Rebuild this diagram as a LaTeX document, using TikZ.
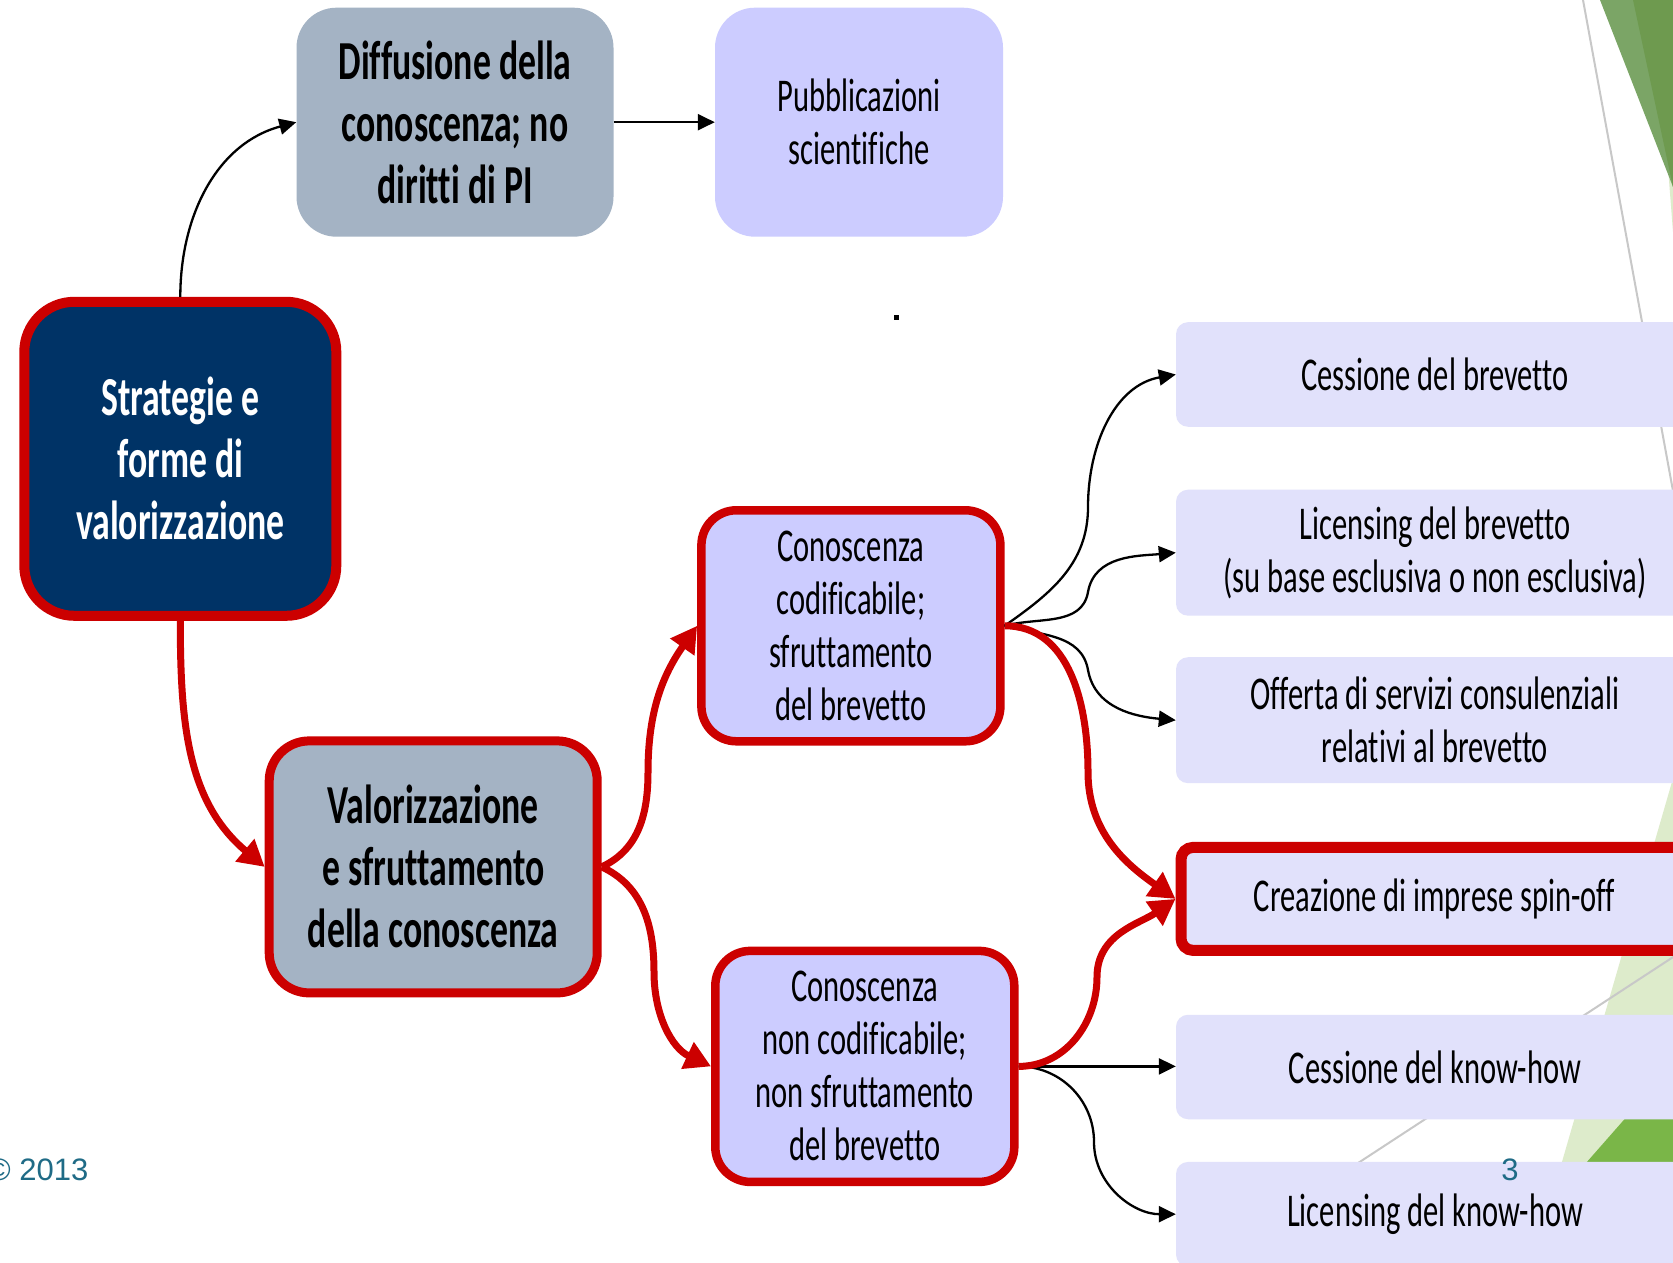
\documentclass[tikz,border=0pt]{standalone}
\usepackage{fontspec}
\setmainfont{Carlito}[FakeStretch=0.65, Ligatures=NoCommon]
\newfontfamily\footfont{Liberation Sans}
\usetikzlibrary{arrows.meta}

\definecolor{navyfill}{HTML}{003366}
\definecolor{boxred}{HTML}{CC0000}
\definecolor{slatefill}{HTML}{A4B3C4}
\definecolor{lilacfill}{HTML}{CCCCFF}
\definecolor{palelilac}{HTML}{E1E1FB}
\definecolor{footteal}{HTML}{1F6B86}
\definecolor{olivedark}{HTML}{6E9A4F}
\definecolor{olivemid}{HTML}{7BA566}
\definecolor{leafgreen}{HTML}{7AB648}
\definecolor{leafpale}{HTML}{DDEBCB}
\definecolor{rulegrey}{HTML}{C8C8C8}

\tikzset{
  boldtext/.style={font=\fontsize{55}{62}\selectfont\bfseries},
  plaintext/.style={font=\fontsize{47}{53}\selectfont},
  block/.style={align=center, inner sep=0pt},
  stratbox/.style={block, boldtext, fill=navyfill, draw=boxred, line width=10pt,
    rounded corners=50pt, text=white, minimum width=312pt, minimum height=314pt},
  greybox/.style={block, boldtext, fill=slatefill, rounded corners=40pt},
  valobox/.style={block, boldtext, fill=slatefill, draw=boxred, line width=9pt,
    rounded corners=40pt, minimum width=328pt, minimum height=252pt},
  lilacbox/.style={block, plaintext, fill=lilacfill, rounded corners=40pt},
  knowbox/.style={block, plaintext, fill=lilacfill, draw=boxred, line width=8.5pt,
    rounded corners=35pt, minimum width=299pt, minimum height=231pt},
  outbox/.style={block, plaintext, fill=palelilac, rounded corners=12pt,
    minimum width=518pt},
  spinbox/.style={outbox, draw=boxred, line width=11pt, minimum width=507pt},
  blackarrow/.style={draw=black, line width=2.3pt,
    -{Triangle[length=17pt,width=16pt]}},
  redarrow/.style={draw=boxred, line width=7pt,
    -{Triangle[length=26pt,width=28pt]}},
}

\begin{document}
\begin{tikzpicture}[x=1pt,y=1pt]
\useasboundingbox (0,0) rectangle (1673,1262);
\clip (0,0) rectangle (1673,1262);
\fill[white] (0,0) rectangle (1673,1262);

% theme decoration in the right margin
\fill[leafpale] (1655,1262) -- (1673,1262) -- (1673,1030) -- cycle;
\fill[olivemid] (1600,1262) -- (1673,1262) -- (1673,1075) -- cycle;
\fill[olivedark] (1633,1262) -- (1673,1262) -- (1673,1075) -- cycle;
\draw[rulegrey, line width=2pt] (1583,1262) -- (1673,771);
\fill[leafpale] (1687,532) -- (1533,0) -- (1700,0) -- (1700,532) -- cycle;
\fill[leafgreen] (1673,198) -- (1499,0) -- (1700,0) -- (1700,198) -- cycle;
\draw[rulegrey, line width=2pt] (1690,316) -- (1300,61);

% main blocks
\node[stratbox] (strat) at (180.3,803.2) {Strategie e\\forme di\\valorizzazione};
\node[greybox, minimum width=317pt, minimum height=229pt] (diff) at (455,1139.8)
  {Diffusione della\\conoscenza; no\\diritti di PI};
\node[lilacbox, minimum width=288pt, minimum height=229pt] (pubb) at (859,1139.8)
  {Pubblicazioni\\scientifiche};
\node[valobox] (valo) at (433.2,395.1) {Valorizzazione\\e sfruttamento\\della conoscenza};
\node[knowbox] (cod) at (850.9,636.2) {Conoscenza\\codificabile;\\sfruttamento\\del brevetto};
\node[knowbox] (ncod) at (864.8,195.6)
  {Conoscenza\\non codificabile;\\non sfruttamento\\del brevetto};

% outcomes
\node[outbox, minimum height=104.6pt] (cb) at (1435,887.5) {Cessione del brevetto};
\node[outbox, minimum height=126pt] (lb) at (1435,709.3)
  {Licensing del brevetto\\(su base esclusiva o non esclusiva)};
\node[outbox, minimum height=126pt] (off) at (1435,541.8)
  {Offerta di servizi consulenziali\\relativi al brevetto};
\node[spinbox, minimum height=103pt] (crea) at (1434.5,363.1) {Creazione di imprese spin-off};
\node[outbox, minimum height=104.5pt] (ckh) at (1435,195) {Cessione del know-how};
\node[outbox, minimum height=104.5pt] (lkh) at (1435,47.8) {Licensing del know-how};

\node[fill=black, minimum size=5pt, inner sep=0pt] (dot) at (896,944) {};

% bends of the curved connectors
\coordinate (bendCb) at (1088,755);
\coordinate (bendLb) at (1088,670);
\coordinate (bendOff) at (1088,592);
\coordinate (bendLkh) at (1094,120);
\coordinate (bendCodSpin) at (1088,490);
\coordinate (bendNcodSpin) at (1097,285);
\coordinate (bendValoCod) at (648,490);
\coordinate (bendValoNcod) at (654,290);

% thin connectors
\draw[blackarrow] (strat.north) to[out=90,in=195] (diff.west);
\draw[blackarrow] (diff.east) -- (pubb.west);
\draw[blackarrow] (cod.east) to[out=35,in=-90] (bendCb) to[out=90,in=190] (cb.west);
\draw[blackarrow] (cod.east) to[out=15,in=-100] (bendLb) to[out=80,in=185] (lb.west);
\draw[blackarrow] (cod.east) to[out=-15,in=100] (bendOff) to[out=-80,in=175] (off.west);
\draw[blackarrow] (ncod.east) -- (ncod.east -| ckh.west);
\draw[blackarrow] (ncod.east) to[out=0,in=90] (bendLkh) to[out=-90,in=180] (lkh.west);

% main path of the valorisation
\draw[redarrow] (strat.south) to[out=-90,in=140] (valo.west);
\draw[redarrow] (valo.east) to[out=25,in=-90] (bendValoCod) to[out=90,in=235] (cod.west);
\draw[redarrow] (valo.east) to[out=-25,in=90] (bendValoNcod) to[out=-90,in=155] (ncod.west);
\draw[redarrow] (cod.east) to[out=0,in=90] (bendCodSpin) to[out=-90,in=145] (crea.west);
\draw[redarrow] (ncod.east) to[out=0,in=-90] (bendNcodSpin) to[out=90,in=215] (crea.west);

% footer
\node[font=\footfont\fontsize{31}{36}\selectfont, text=footteal, anchor=east, inner sep=0pt]
  (year) at (88.6,92) {© 2013};
\node[font=\footfont\fontsize{31}{36}\selectfont, text=footteal, inner sep=0pt]
  (pagenum) at (1510,92) {3};
\end{tikzpicture}
\end{document}
